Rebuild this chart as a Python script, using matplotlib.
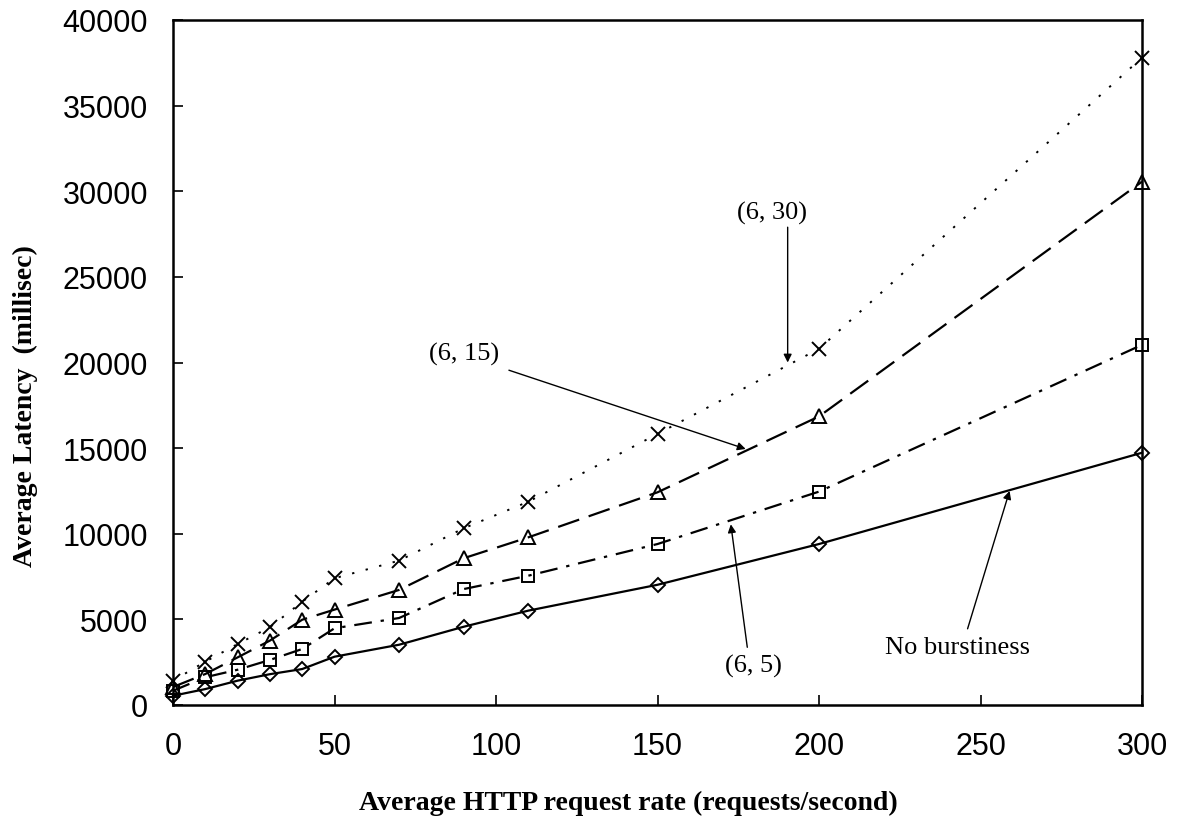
import numpy as np
import matplotlib
matplotlib.use("Agg")
import matplotlib.pyplot as plt

# request rate (requests/second)
rate = [0, 10, 20, 30, 40, 50, 70, 90, 110, 150, 200, 300]

# average latency (millisec)
no_burst = [540, 930, 1420, 1800, 2100, 2820, 3520, 4570, 5510, 7020, 9400, 14730]
b_6_5 = [830, 1620, 2060, 2630, 3270, 4480, 5080, 6770, 7550, 9400, 12460, 21030]
b_6_15 = [1050, 1810, 2780, 3760, 4980, 5570, 6720, 8570, 9790, 12420, 16850, 30560]
b_6_30 = [1420, 2530, 3560, 4540, 6030, 7400, 8430, 10320, 11870, 15830, 20800, 37800]

fig = plt.figure(figsize=(11.79, 8.37), dpi=100)
# plot box: x 173..1142 px, y 21..706 px
ax = fig.add_axes([173 / 1179, 1 - 706 / 837, 969 / 1179, 685 / 837])

mk = dict(color="black", markerfacecolor="none", markeredgecolor="black",
          markeredgewidth=1.4, clip_on=False)
ax.plot(rate, no_burst, "-", marker="D", markersize=7.5, lw=1.6, **mk)
ax.plot(rate, b_6_5, marker="s", markersize=9, lw=1.6,
        dashes=[8, 4, 1.5, 4], **mk)
ax.plot(rate, b_6_15, marker="^", markersize=10.5, lw=1.6,
        dashes=[10, 4.5], **mk)
ax.plot(rate, b_6_30, marker="x", markersize=10, lw=1.4,
        dashes=[1.2, 6], **mk)

ax.set_xlim(0, 300)
ax.set_ylim(0, 40000)
ax.set_xticks(np.arange(0, 301, 50))
ax.set_yticks(np.arange(0, 40001, 5000))
ax.tick_params(direction="in", length=7, width=1.2, labelsize=22,
               top=False, right=False)
ax.tick_params(axis="x", pad=19)
ax.tick_params(axis="y", pad=18)
for lbl in ax.get_xticklabels() + ax.get_yticklabels():
    lbl.set_fontfamily("Liberation Sans")
for s in ax.spines.values():
    s.set_linewidth(1.8)

ax.set_xlabel("Average HTTP request rate (requests/second)",
              fontfamily="Liberation Serif", fontweight="bold", fontsize=20)
ax.xaxis.label.set_va("center")
ax.xaxis.set_label_coords((628 - 173) / 969, (706 - 803) / 685)
ax.set_ylabel("Average Latency  (millisec)",
              fontfamily="Liberation Serif", fontweight="bold", fontsize=20)
ax.yaxis.label.set_va("center")
ax.yaxis.set_label_coords((25 - 173) / 969, (706 - 406) / 685)

txt = dict(fontfamily="Liberation Serif", fontsize=19, ha="center", va="center")
arr = dict(arrowstyle="-|>", color="black", lw=1.0, mutation_scale=12,
           shrinkA=0, shrinkB=0)

ax.text(185.6, 28770, "(6, 30)", **txt)
ax.annotate("", xy=(190.3, 20000), xytext=(190.3, 27900), arrowprops=arr)

ax.text(90, 20500, "(6, 15)", **txt)
ax.annotate("", xy=(177.3, 14950), xytext=(104, 19550), arrowprops=arr)

ax.text(179.8, 2295, "(6, 5)", **txt)
ax.annotate("", xy=(172.7, 10550), xytext=(177.8, 3370), arrowprops=arr)

ax.text(243, 3390, "No burstiness", **txt)
ax.annotate("", xy=(259, 12500), xytext=(246, 4450), arrowprops=arr)

fig.savefig("out.png", dpi=100)
